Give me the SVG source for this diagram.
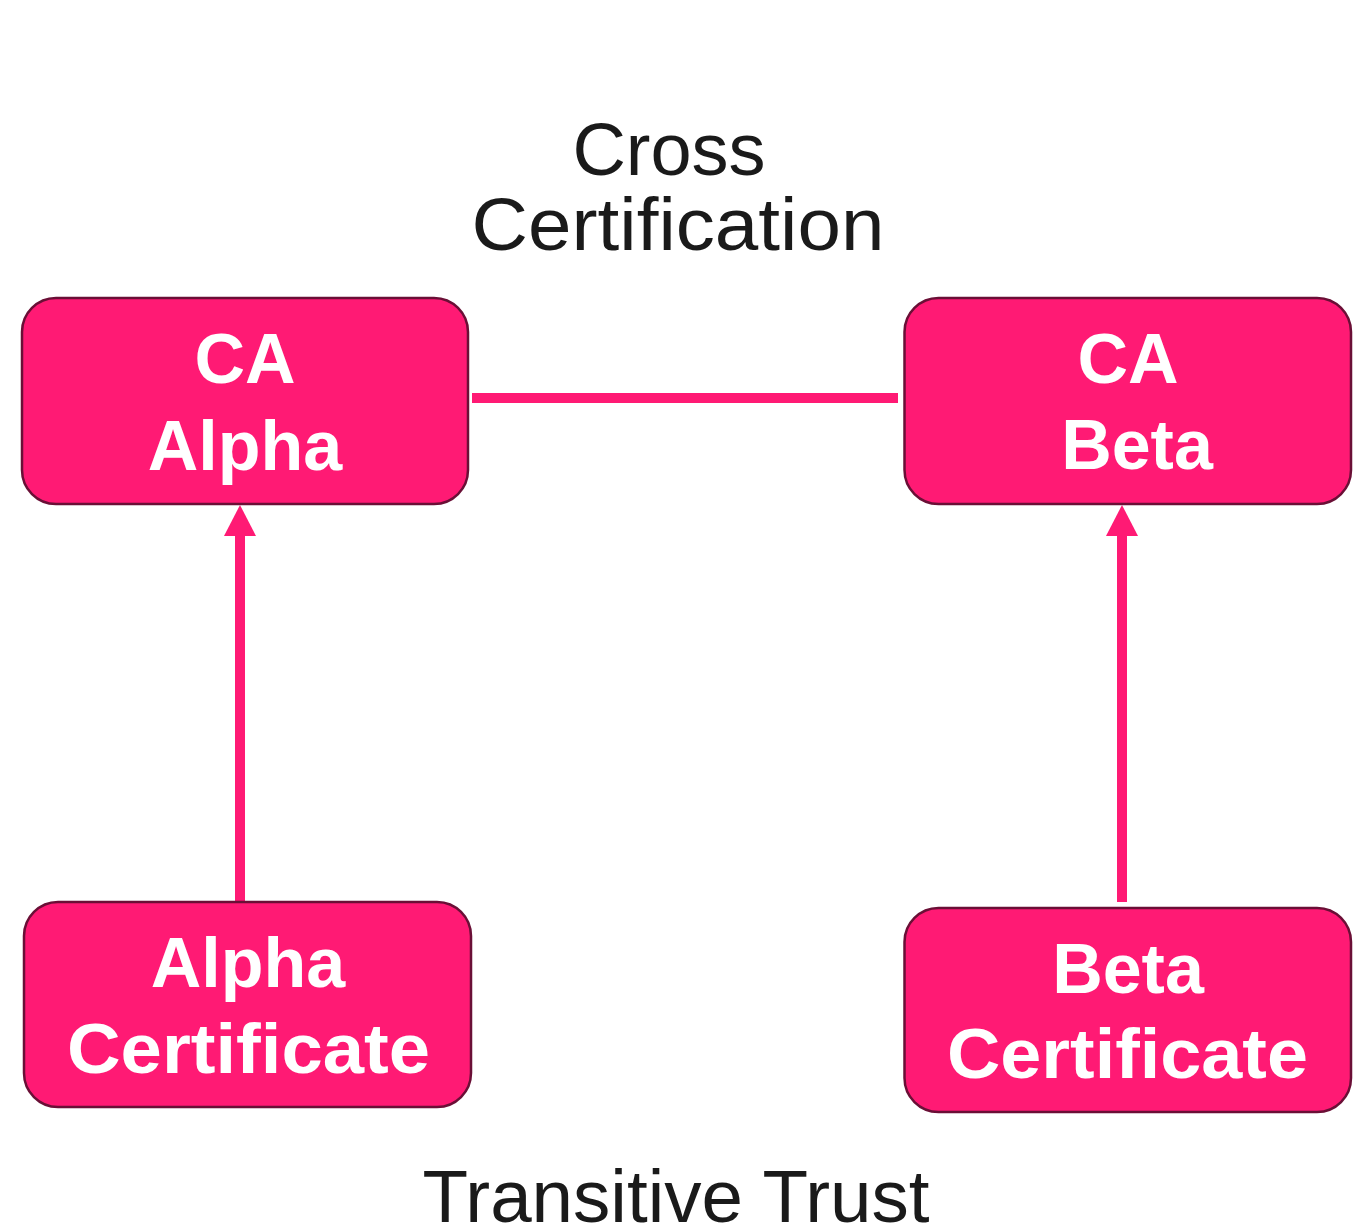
<svg xmlns="http://www.w3.org/2000/svg" width="1368" height="1230" viewBox="0 0 1368 1230">
  <style>
    .box { fill: #ff1a74; stroke: #6a0f36; stroke-width: 2.5; }
    .label { font-family: "Liberation Sans", Arial, sans-serif; font-weight: bold; font-size: 70px; fill: #ffffff; text-anchor: middle; }
    .caption { font-family: "Liberation Sans", Arial, sans-serif; font-size: 74px; fill: #1a1a1a; text-anchor: middle; }
    .link { stroke: #ff1a74; stroke-width: 10; fill: none; }
    .head { fill: #ff1a74; }
  </style>

  <rect width="1368" height="1230" fill="#ffffff"/>

  <!-- captions -->
  <text class="caption" x="669" y="175">Cross</text>
  <text class="caption" x="678" y="250" textLength="413" lengthAdjust="spacingAndGlyphs">Certification</text>
  <text class="caption" x="676" y="1222" textLength="507" lengthAdjust="spacingAndGlyphs">Transitive Trust</text>

  <!-- connectors -->
  <g id="connectors">
    <line class="link" x1="472" y1="398" x2="898" y2="398"/>
    <line class="link" x1="240" y1="534" x2="240" y2="901"/>
    <polygon class="head" points="240,505 256,536 224,536"/>
    <line class="link" x1="1122" y1="534" x2="1122" y2="902"/>
    <polygon class="head" points="1122,505 1138,536 1106,536"/>
  </g>

  <g id="ca-alpha">
    <rect class="box" x="22" y="298" width="446" height="206" rx="34" ry="34"/>
    <text class="label" x="245" y="383">CA</text>
    <text class="label" x="245" y="470">Alpha</text>
  </g>

  <g id="ca-beta">
    <rect class="box" x="904.5" y="298" width="446.5" height="206" rx="34" ry="34"/>
    <text class="label" x="1128" y="383">CA</text>
    <text class="label" x="1137" y="469">Beta</text>
  </g>

  <g id="alpha-certificate">
    <rect class="box" x="24" y="902" width="447" height="205" rx="34" ry="34"/>
    <text class="label" x="248" y="987">Alpha</text>
    <text class="label" x="248.5" y="1073" textLength="363" lengthAdjust="spacingAndGlyphs">Certificate</text>
  </g>

  <g id="beta-certificate">
    <rect class="box" x="904.5" y="908" width="446.5" height="204" rx="34" ry="34"/>
    <text class="label" x="1128" y="993">Beta</text>
    <text class="label" x="1127.5" y="1078" textLength="361" lengthAdjust="spacingAndGlyphs">Certificate</text>
  </g>
</svg>
